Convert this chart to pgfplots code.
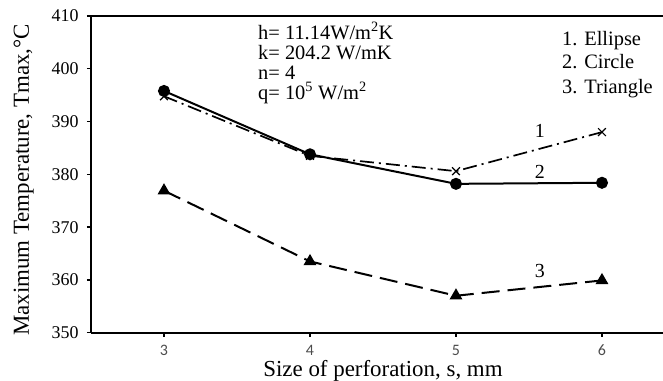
\documentclass[border=0pt]{standalone}
\usepackage{pgfplots}
\pgfplotsset{compat=1.18}
\usepackage{fontspec}
\setmainfont{Liberation Serif}
\newfontfamily\tickfont{Carlito}
\begin{document}
\begin{tikzpicture}
\begin{axis}[
  scale only axis, width=572bp, height=316.7bp,
  xmin=2.5, xmax=6.418, ymin=350, ymax=410,
  axis x line=box, axis y line=left,
  axis line style={-, line width=2bp, black},
  xtick={3,4,5,6}, ytick={350,360,...,410},
  xtick pos=bottom, ytick pos=left,
  tick align=outside, major tick length=4bp,
  every tick/.style={black, line width=1.3bp},
  xticklabels={3,4,5,6},
  x tick label style={font=\tickfont\fontsize{16}{18}\selectfont, text=black!70, yshift=-5bp},
  y tick label style={font=\fontsize{18}{20}\selectfont, xshift=-5bp},
  /pgf/number format/assume math mode=true,
  xlabel={Size of perforation, s, mm},
  ylabel={Maximum Temperature, Tmax,\textdegree C},
  every axis x label/.style={at={(axis cs:4.5,350)}, anchor=base, yshift=-44.3bp, font=\fontsize{23}{25}\selectfont},
  every axis y label/.style={at={(axis cs:2.0753,378.93)}, anchor=base, rotate=90, font=\fontsize{23}{25}\selectfont},
  clip=false,
]
% 1. Ellipse
\addplot[black, line width=1.7bp, dash pattern=on 14bp off 5bp on 2bp off 5bp, mark=x, mark size=5.5bp, mark options={solid, line width=1.2bp}]
  coordinates {(3,394.8) (4,383.5) (5,380.6) (6,388.0)};
% 2. Circle
\addplot[black, line width=2bp, mark=*, mark size=5bp, mark options={solid}]
  coordinates {(3,395.8) (4,383.8) (5,378.2) (6,378.4)};
% 3. Triangle
\addplot[black, line width=2bp, dash pattern=on 18bp off 8bp, mark=triangle*, mark size=5.5bp, mark options={solid}]
  coordinates {(3,376.9) (4,363.5) (5,357.0) (6,359.9)};
\node[anchor=base, font=\fontsize{20}{22}\selectfont] at (axis cs:5.575,387.07) {1};
\node[anchor=base, font=\fontsize{20}{22}\selectfont] at (axis cs:5.575,379.3) {2};
\node[anchor=base, font=\fontsize{20}{22}\selectfont] at (axis cs:5.575,360.55) {3};
\begin{scope}[every node/.style={anchor=base west, inner sep=0pt, font=\fontsize{20.5}{22}\selectfont}]
\node at (axis cs:3.644,405.64) {h= 11.14W/m\textsuperscript{2}K};
\node at (axis cs:3.644,401.85) {k= 204.2 W/mK};
\node at (axis cs:3.644,398.06) {n= 4};
\node at (axis cs:3.644,394.27) {q= 10\textsuperscript{5} W/m\textsuperscript{2}};
\node at (axis cs:5.726,404.5) {1. Ellipse};
\node at (axis cs:5.726,400.05) {2. Circle};
\node at (axis cs:5.726,395.4) {3. Triangle};
\end{scope}
\end{axis}
\pgfresetboundingbox
\path ([shift={(-91bp,-48.3bp)}]current axis.south west) rectangle ([shift={(0bp,16bp)}]current axis.north east);
\end{tikzpicture}
\end{document}
